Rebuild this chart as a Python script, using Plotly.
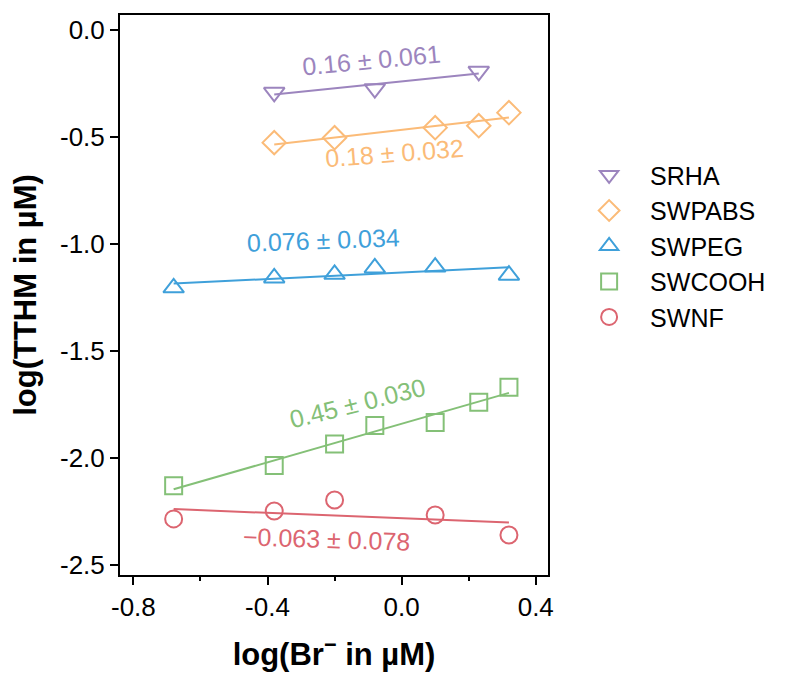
import numpy as np
import plotly.graph_objects as go

# log10 bromide concentration (µM) and log10 TTHM (µM) for each material
srha_x = [-0.38, -0.08, 0.23]
srha_y = [-0.293, -0.276, -0.195]

swpabs_x = [-0.38, -0.20, 0.10, 0.23, 0.32]
swpabs_y = [-0.528, -0.505, -0.458, -0.449, -0.388]

swpeg_x = [-0.68, -0.38, -0.20, -0.08, 0.10, 0.32]
swpeg_y = [-1.206, -1.160, -1.143, -1.113, -1.109, -1.147]

swcooh_x = [-0.68, -0.38, -0.20, -0.08, 0.10, 0.23, 0.32]
swcooh_y = [-2.130, -2.036, -1.935, -1.849, -1.835, -1.740, -1.670]

swnf_x = [-0.68, -0.38, -0.20, 0.10, 0.32]
swnf_y = [-2.285, -2.248, -2.197, -2.267, -2.360]

names = ["SRHA", "SWPABS", "SWPEG", "SWCOOH", "SWNF"]
slope_text = ["0.16", "0.18", "0.076", "0.45", "−0.063"]
slope_err = ["0.061", "0.032", "0.034", "0.030", "0.078"]

# slope label placement (data coords) and rotation
label_x = [-0.090, -0.020, -0.234, -0.131, -0.225]
label_y = [-0.142, -0.577, -0.983, -1.744, -2.379]
label_angle = [-5.4, -4.4, -2.0, -14.0, 1.8]

colors = ["#9c85be", "#fbbb78", "#3fa0da", "#84c077", "#dc6570"]
symbols = ["triangle-down-open", "diamond-open", "triangle-up-open",
           "square-open", "circle-open"]
sizes = [18, 18, 18, 17, 17]

xs = [srha_x, swpabs_x, swpeg_x, swcooh_x, swnf_x]
ys = [srha_y, swpabs_y, swpeg_y, swcooh_y, swnf_y]

FONT = "Liberation Sans, Arial, sans-serif"

fig = go.Figure()

for name, x, y, st, col, sym, sz in zip(names, xs, ys, slope_text, colors,
                                       symbols, sizes):
    x = np.asarray(x)
    y = np.asarray(y)
    slope = float(st.replace("−", "-"))
    xl = np.array([x.min(), x.max()])
    yl = y.mean() + slope * (xl - x.mean())
    fig.add_trace(go.Scatter(
        x=xl, y=yl, mode="lines", showlegend=False, hoverinfo="skip",
        line=dict(color=col, width=2),
    ))
    fig.add_trace(go.Scatter(
        x=x, y=y, mode="markers", name=name,
        marker=dict(symbol=sym, size=sz, color=col,
                    line=dict(width=2, color=col)),
    ))

for st, se, lx, ly, ang, col in zip(slope_text, slope_err, label_x, label_y,
                                    label_angle, colors):
    fig.add_annotation(
        x=lx, y=ly, xref="x", yref="y", text=f"{st} ± {se}",
        showarrow=False, textangle=ang, xanchor="center", yanchor="middle",
        font=dict(family=FONT, size=25, color=col),
    )

x_ticks = [-0.8, -0.4, 0.0, 0.4]
x_tick_text = ["-0.8", "-0.4", "0.0", "0.4"]
y_ticks = [0.0, -0.5, -1.0, -1.5, -2.0, -2.5]
y_tick_text = ["0.0", "-0.5", "-1.0", "-1.5", "-2.0", "-2.5"]

fig.update_layout(
    width=790, height=677,
    margin=dict(l=120, r=242, t=15, b=102),
    paper_bgcolor="white", plot_bgcolor="white",
    font=dict(family=FONT, color="black"),
    legend=dict(
        x=1.047, y=0.755, xanchor="left", yanchor="top",
        itemwidth=72,
        font=dict(family=FONT, size=25, color="black"),
        bgcolor="rgba(0,0,0,0)", borderwidth=0,
    ),
)

fig.update_xaxes(
    range=[-0.84, 0.4365], showgrid=False, zeroline=False,
    showline=True, mirror=True, linecolor="black", linewidth=2,
    ticks="outside", ticklen=8, tickwidth=2, tickcolor="black",
    tickvals=x_ticks, ticktext=x_tick_text,
    tickfont=dict(family=FONT, size=26, color="black"),
    minor=dict(dtick=0.2, tick0=0, ticks="outside", ticklen=4,
               tickwidth=2, tickcolor="black", showgrid=False),
    title=dict(text="<b>log(Br<sup>−</sup> in µM)</b>",
               font=dict(family=FONT, size=31, color="black"), standoff=22),
)
fig.update_yaxes(
    range=[-2.547, 0.068], showgrid=False, zeroline=False,
    showline=True, mirror=True, linecolor="black", linewidth=2,
    ticks="outside", ticklen=8, tickwidth=2, tickcolor="black",
    tickvals=y_ticks, ticktext=y_tick_text,
    tickfont=dict(family=FONT, size=26, color="black"),
    title=dict(text="<b>log(TTHM in µM)</b>",
               font=dict(family=FONT, size=31, color="black"), standoff=14),
)

fig.write_html("out.html")
